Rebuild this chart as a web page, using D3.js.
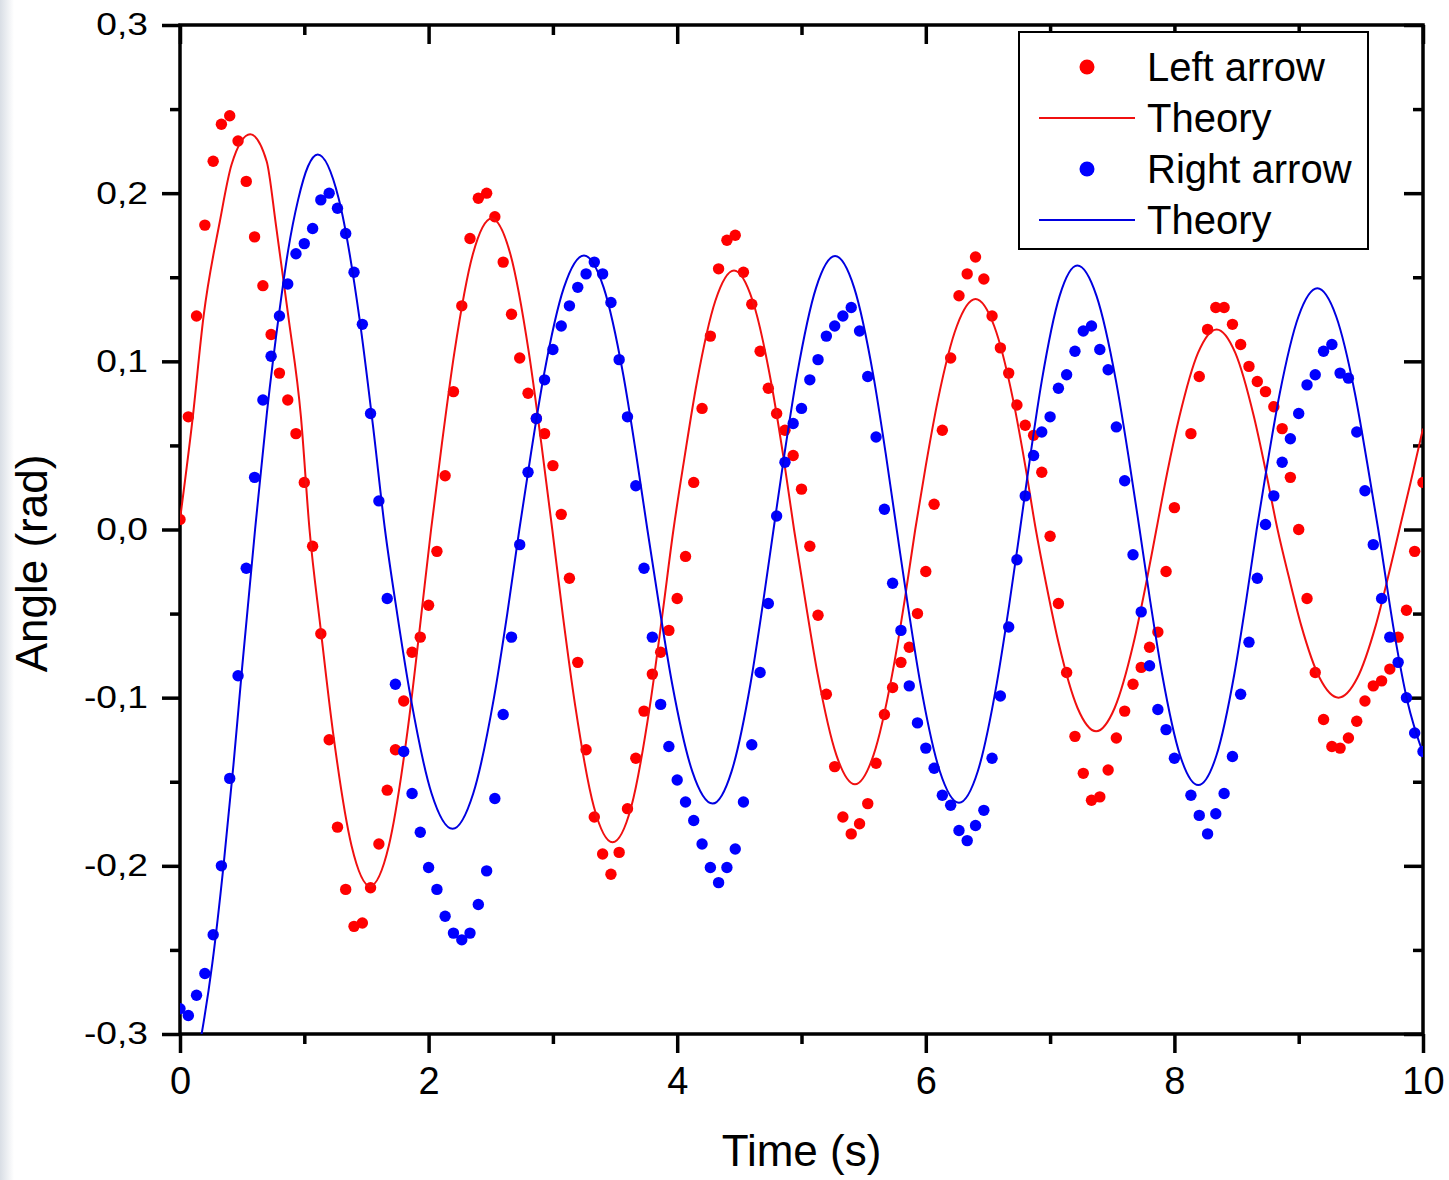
<!DOCTYPE html>
<html>
<head>
<meta charset="utf-8">
<title>Angle vs time</title>
<script src="https://cdn.jsdelivr.net/npm/d3@7"></script>
<style>
	html, body { margin: 0; padding: 0; background: #fff; }
	svg { display: block; font-family: 'Liberation Sans', Arial, sans-serif; }
	.axis text { font-family: 'Liberation Sans', Arial, sans-serif; font-size: 38px; fill: #000; }
	.axis-left text { font-size: 31px; }
	.axis line { stroke: #000; stroke-width: 3.5px; }
	.frame { fill: none; stroke: #000; stroke-width: 3.5px; }
	.axis-title { font-size: 44px; fill: #000; }
	.graph-line { fill: none; stroke-width: 2px; }
	.legend-box { fill: #fff; stroke: #000; stroke-width: 2px; }
	.legend-label { font-size: 40px; fill: #000; }
</style>
</head>
<body>
<div id="angle-graph"></div>
<script>
/*
 *	angle-graph
 */
'use strict';

// video frames (15 fps, frame at 8.067 s is missing)
var frameTimes = [
	0, 0.067, 0.133, 0.2, 0.267, 0.333, 0.4, 0.467, 0.533, 0.6, 0.667, 0.733, 0.8, 0.867, 0.933,
	1, 1.067, 1.133, 1.2, 1.267, 1.333, 1.4, 1.467, 1.533, 1.6, 1.667, 1.733, 1.8, 1.867, 1.933,
	2, 2.067, 2.133, 2.2, 2.267, 2.333, 2.4, 2.467, 2.533, 2.6, 2.667, 2.733, 2.8, 2.867, 2.933,
	3, 3.067, 3.133, 3.2, 3.267, 3.333, 3.4, 3.467, 3.533, 3.6, 3.667, 3.733, 3.8, 3.867, 3.933,
	4, 4.067, 4.133, 4.2, 4.267, 4.333, 4.4, 4.467, 4.533, 4.6, 4.667, 4.733, 4.8, 4.867, 4.933,
	5, 5.067, 5.133, 5.2, 5.267, 5.333, 5.4, 5.467, 5.533, 5.6, 5.667, 5.733, 5.8, 5.867, 5.933,
	6, 6.067, 6.133, 6.2, 6.267, 6.333, 6.4, 6.467, 6.533, 6.6, 6.667, 6.733, 6.8, 6.867, 6.933,
	7, 7.067, 7.133, 7.2, 7.267, 7.333, 7.4, 7.467, 7.533, 7.6, 7.667, 7.733, 7.8, 7.867, 7.933,
	8, 8.133, 8.2, 8.267, 8.333, 8.4, 8.467, 8.533, 8.6, 8.667, 8.733, 8.8, 8.867, 8.933,
	9, 9.067, 9.133, 9.2, 9.267, 9.333, 9.4, 9.467, 9.533, 9.6, 9.667, 9.733, 9.8, 9.867, 9.933,
	10
];

var leftArrow = [
	0.006, 0.067, 0.127, 0.181, 0.219, 0.241, 0.246, 0.231, 0.207, 0.174, 0.145, 0.116, 0.093, 0.077, 0.057,
	0.028, -0.010, -0.062, -0.125, -0.177, -0.214, -0.236, -0.234, -0.213, -0.187, -0.155, -0.131, -0.102, -0.073, -0.064,
	-0.045, -0.013, 0.032, 0.082, 0.133, 0.173, 0.197, 0.200, 0.186, 0.159, 0.128, 0.102, 0.081, 0.066, 0.057,
	0.038, 0.009, -0.029, -0.079, -0.131, -0.171, -0.193, -0.205, -0.192, -0.166, -0.136, -0.108, -0.086, -0.073, -0.060,
	-0.041, -0.016, 0.028, 0.072, 0.115, 0.155, 0.172, 0.175, 0.153, 0.134, 0.106, 0.084, 0.069, 0.059, 0.044,
	0.024, -0.010, -0.051, -0.098, -0.141, -0.171, -0.181, -0.175, -0.163, -0.139, -0.110, -0.094, -0.079, -0.070, -0.050,
	-0.025, 0.015, 0.059, 0.102, 0.139, 0.152, 0.162, 0.149, 0.127, 0.108, 0.093, 0.074, 0.062, 0.056, 0.034,
	-0.004, -0.044, -0.085, -0.123, -0.145, -0.161, -0.159, -0.143, -0.124, -0.108, -0.092, -0.082, -0.070, -0.061, -0.025,
	0.013, 0.057, 0.091, 0.119, 0.132, 0.132, 0.122, 0.110, 0.097, 0.088, 0.082, 0.073, 0.060, 0.031,
	0.000, -0.041, -0.085, -0.113, -0.129, -0.130, -0.124, -0.114, -0.102, -0.093, -0.090, -0.083, -0.064, -0.048, -0.013,
	0.028
];

var rightArrow = [
	-0.285, -0.289, -0.277, -0.264, -0.241, -0.200, -0.148, -0.087, -0.023, 0.031, 0.077, 0.103, 0.127, 0.146, 0.164,
	0.170, 0.179, 0.196, 0.200, 0.191, 0.176, 0.153, 0.122, 0.069, 0.017, -0.041, -0.092, -0.132, -0.157, -0.180,
	-0.201, -0.214, -0.230, -0.240, -0.244, -0.240, -0.223, -0.203, -0.160, -0.110, -0.064, -0.009, 0.034, 0.066, 0.089,
	0.107, 0.121, 0.133, 0.144, 0.152, 0.159, 0.152, 0.135, 0.101, 0.067, 0.026, -0.023, -0.064, -0.104, -0.129,
	-0.149, -0.162, -0.173, -0.187, -0.201, -0.210, -0.201, -0.190, -0.162, -0.128, -0.085, -0.044, 0.008, 0.040, 0.063,
	0.072, 0.089, 0.101, 0.115, 0.121, 0.127, 0.132, 0.118, 0.091, 0.055, 0.012, -0.032, -0.060, -0.093, -0.115,
	-0.130, -0.142, -0.158, -0.164, -0.179, -0.185, -0.176, -0.167, -0.136, -0.099, -0.058, -0.018, 0.020, 0.044, 0.058,
	0.067, 0.084, 0.092, 0.106, 0.118, 0.121, 0.107, 0.095, 0.061, 0.029, -0.015, -0.049, -0.081, -0.107, -0.119,
	-0.136, -0.158, -0.170, -0.181, -0.169, -0.157, -0.135, -0.098, -0.067, -0.029, 0.003, 0.020, 0.040, 0.054,
	0.069, 0.086, 0.092, 0.106, 0.110, 0.093, 0.090, 0.058, 0.023, -0.009, -0.041, -0.064, -0.079, -0.100, -0.121,
	-0.132
];

// theory curves, [time, angle]
var leftTheory = [
	[0, 0.006], [0.10, 0.065], [0.19, 0.127], [0.32, 0.183], [0.415, 0.217], [0.565, 0.235], [0.697, 0.219], [0.772, 0.181], [0.871, 0.127], [0.973, 0.067], [1.042, 0],
	[1.13, -0.058], [1.23, -0.120], [1.38, -0.188], [1.529, -0.212], [1.68, -0.188], [1.83, -0.120], [1.93, -0.058], [2.02, 0],
	[2.107, 0.051], [2.207, 0.105], [2.357, 0.164], [2.507, 0.185], [2.657, 0.164], [2.807, 0.105], [2.907, 0.051], [2.995, 0],
	[3.08, -0.051], [3.18, -0.105], [3.33, -0.165], [3.48, -0.186], [3.63, -0.165], [3.78, -0.105], [3.88, -0.051], [3.97, 0],
	[4.057, 0.042], [4.157, 0.087], [4.307, 0.136], [4.457, 0.154], [4.607, 0.136], [4.757, 0.087], [4.857, 0.042], [4.94, 0],
	[5.03, -0.042], [5.13, -0.086], [5.28, -0.134], [5.43, -0.1515], [5.58, -0.134], [5.73, -0.086], [5.83, -0.042], [5.915, 0],
	[6.00, 0.038], [6.10, 0.078], [6.25, 0.121], [6.40, 0.137], [6.55, 0.121], [6.70, 0.078], [6.80, 0.038], [6.885, 0],
	[6.97, -0.033], [7.07, -0.068], [7.22, -0.106], [7.37, -0.120], [7.52, -0.106], [7.67, -0.068], [7.77, -0.033], [7.855, 0],
	[7.94, 0.033], [8.04, 0.067], [8.19, 0.105], [8.34, 0.119], [8.49, 0.105], [8.64, 0.067], [8.74, 0.033], [8.83, 0],
	[8.92, -0.028], [9.02, -0.057], [9.17, -0.0885], [9.32, -0.100], [9.47, -0.0885], [9.62, -0.057], [9.72, -0.028], [9.81, 0],
	[9.90, 0.028], [10, 0.060]
];

var rightTheory = [
	[0, -0.345], [0.10, -0.328], [0.174, -0.300], [0.26, -0.258], [0.35, -0.200], [0.43, -0.140], [0.50, -0.082], [0.604, 0],
	[0.70, 0.070], [0.80, 0.130], [0.87, 0.166], [0.95, 0.196], [1.03, 0.216], [1.108, 0.223],
	[1.276, 0.197], [1.443, 0.126], [1.552, 0.062], [1.649, 0],
	[1.747, -0.050], [1.856, -0.100], [2.024, -0.157], [2.193, -0.178], [2.359, -0.157], [2.526, -0.100], [2.633, -0.050], [2.73, 0],
	[2.824, 0.0455], [2.928, 0.092], [3.089, 0.144], [3.25, 0.163], [3.408, 0.144], [3.566, 0.092], [3.668, 0.0455], [3.76, 0],
	[3.855, -0.0454], [3.96, -0.092], [4.122, -0.144], [4.285, -0.163], [4.437, -0.144], [4.589, -0.092], [4.687, -0.0454], [4.775, 0],
	[4.864, 0.0454], [4.963, 0.0915], [5.117, 0.1437], [5.27, 0.1626], [5.424, 0.1437], [5.578, 0.0915], [5.677, 0.0454], [5.766, 0],
	[5.856, -0.0453], [5.956, -0.0915], [6.112, -0.1436], [6.267, -0.1625], [6.419, -0.1436], [6.571, -0.0915], [6.67, -0.0453], [6.758, 0],
	[6.841, 0.0438], [6.933, 0.0884], [7.076, 0.1388], [7.219, 0.157], [7.374, 0.1388], [7.53, 0.0884], [7.63, 0.0438], [7.72, 0],
	[7.805, -0.0424], [7.9, -0.0856], [8.046, -0.1344], [8.192, -0.152], [8.338, -0.1344], [8.483, -0.0856], [8.577, -0.0424], [8.662, 0],
	[8.75, 0.040], [8.847, 0.0807], [8.999, 0.1268], [9.15, 0.1434], [9.301, 0.1268], [9.453, 0.0807], [9.55, 0.040], [9.64, 0],
	[9.775, -0.064], [9.874, -0.102], [10, -0.133]
];

var xMajorTicks = [0, 2, 4, 6, 8, 10],
	xMinorTicks = [1, 3, 5, 7, 9],
	yMajorTicks = [-0.3, -0.2, -0.1, 0, 0.1, 0.2, 0.3],
	yMinorTicks = [-0.25, -0.15, -0.05, 0.05, 0.15, 0.25];

var legendLabels = ['Left arrow', 'Theory', 'Right arrow', 'Theory'];

var colorRed = '#ff0000',
	colorRedLine = '#f01010',
	colorBlue = '#0000ff',
	colorBlueLine = '#0000e0';

var renderGraph = function () {
	var margin = {
			top: 25,
			right: 26,
			bottom: 146,
			left: 180
		},
		width = 1449 - margin.left - margin.right,
		height = 1180 - margin.top - margin.bottom;

	var commaFormat = d3.formatLocale({
		decimal: ',',
		thousands: '.',
		grouping: [3],
		currency: ['', ''],
		minus: '-'
	}).format('.1f');

	var xScale = d3.scaleLinear().domain([0, 10]).range([0, width]),
		yScale = d3.scaleLinear().domain([-0.3, 0.3]).range([height, 0]);

	var svg = d3.select('#angle-graph')
		.append('svg')
			.attr('width', width + margin.left + margin.right)
			.attr('height', height + margin.top + margin.bottom);

	// LEFT EDGE (slide background)
	var grad = svg.append('defs').append('linearGradient')
		.attr('id', 'edge-grad')
		.attr('x1', 0).attr('x2', 1).attr('y1', 0).attr('y2', 0);
	grad.append('stop').attr('offset', '0%').attr('stop-color', '#d9dee5');
	grad.append('stop').attr('offset', '100%').attr('stop-color', '#ffffff');
	svg.append('rect')
		.attr('x', 0).attr('y', 0)
		.attr('width', 14).attr('height', 1180)
		.attr('fill', 'url(#edge-grad)');

	svg.select('defs').append('clipPath')
		.attr('id', 'plot-clip')
		.append('rect')
			.attr('width', width)
			.attr('height', height);

	var svgGraph = svg.append('g')
		.attr('transform', 'translate(' + margin.left + ',' + margin.top + ')');

	// AXES
	var addAxis = function (cls, axis, transform) {
		var g = svgGraph.append('g')
			.attr('class', 'axis ' + cls)
			.attr('transform', transform)
			.call(axis);
		g.select('.domain').remove();
		return g;
	};

	addAxis('axis-bottom', d3.axisBottom(xScale).tickValues(xMajorTicks).tickSize(19).tickPadding(14).tickFormat(d3.format('d')), 'translate(0,' + height + ')');
	addAxis('axis-bottom-small', d3.axisBottom(xScale).tickValues(xMinorTicks).tickSize(10).tickFormat(''), 'translate(0,' + height + ')');
	addAxis('axis-top', d3.axisBottom(xScale).tickValues(xMajorTicks).tickSize(19).tickFormat(''), 'translate(0,0)');
	addAxis('axis-top-small', d3.axisBottom(xScale).tickValues(xMinorTicks).tickSize(10).tickFormat(''), 'translate(0,0)');
	var leftAxis = addAxis('axis-left', d3.axisLeft(yScale).tickValues(yMajorTicks).tickSize(18).tickPadding(14).tickFormat(commaFormat), 'translate(0,0)');
	addAxis('axis-left-small', d3.axisLeft(yScale).tickValues(yMinorTicks).tickSize(10).tickFormat(''), 'translate(0,0)');
	addAxis('axis-right', d3.axisLeft(yScale).tickValues(yMajorTicks).tickSize(19).tickFormat(''), 'translate(' + width + ',0)');
	addAxis('axis-right-small', d3.axisLeft(yScale).tickValues(yMinorTicks).tickSize(10).tickFormat(''), 'translate(' + width + ',0)');

	// y labels are drawn wide in the original
	leftAxis.selectAll('text')
		.attr('x', -32 / 1.2)
		.attr('transform', 'scale(1.2,1)');

	svgGraph.append('rect')
		.attr('class', 'frame')
		.attr('width', width)
		.attr('height', height);

	// AXIS TITLES
	svgGraph.append('text')
		.attr('class', 'axis-title')
		.attr('text-anchor', 'middle')
		.attr('x', width / 2)
		.attr('y', height + 132)
		.text('Time (s)');

	svgGraph.append('text')
		.attr('class', 'axis-title')
		.attr('text-anchor', 'middle')
		.attr('transform', 'translate(' + (47 - margin.left) + ',' + (yScale(0) + 34) + ') rotate(-90)')
		.text('Angle (rad)');

	// DATA
	var line = d3.line()
		.curve(d3.curveMonotoneX)
		.x(function (d) { return xScale(d[0]); })
		.y(function (d) { return yScale(d[1]); });

	var plot = svgGraph.append('g').attr('clip-path', 'url(#plot-clip)');

	var series = [
		{ values: leftArrow, theory: leftTheory, dot: colorRed, line: colorRedLine },
		{ values: rightArrow, theory: rightTheory, dot: colorBlue, line: colorBlueLine }
	];

	series.forEach(function (s) {
		plot.append('g')
			.selectAll('circle')
			.data(frameTimes.map(function (t, i) { return [t, s.values[i]]; }))
			.enter()
			.append('circle')
				.attr('cx', function (d) { return xScale(d[0]); })
				.attr('cy', function (d) { return yScale(d[1]); })
				.attr('r', 5.7)
				.attr('fill', s.dot);

		plot.append('path')
			.datum(s.theory)
			.attr('class', 'graph-line')
			.attr('stroke', s.line)
			.attr('d', line);
	});

	// LEGEND
	var legend = svg.append('g')
		.attr('transform', 'translate(1019,32)');

	legend.append('rect')
		.attr('class', 'legend-box')
		.attr('width', 349)
		.attr('height', 217);

	var rows = legend.selectAll('.legend-row')
		.data(legendLabels)
		.enter()
		.append('g')
			.attr('class', 'legend-row')
			.attr('transform', function (d, i) { return 'translate(0,' + (35 + i * 51) + ')'; });

	rows.each(function (d, i) {
		var row = d3.select(this),
			s = series[Math.floor(i / 2)];
		if (i % 2 === 0) {
			row.append('circle')
				.attr('cx', 68)
				.attr('cy', 0)
				.attr('r', 7.5)
				.attr('fill', s.dot);
		} else {
			row.append('line')
				.attr('x1', 20)
				.attr('x2', 116)
				.attr('y1', 0)
				.attr('y2', 0)
				.attr('stroke', s.line)
				.attr('stroke-width', 2);
		}
		row.append('text')
			.attr('class', 'legend-label')
			.attr('x', 128)
			.attr('y', 14)
			.text(d);
	});
};

renderGraph();
</script>
</body>
</html>
